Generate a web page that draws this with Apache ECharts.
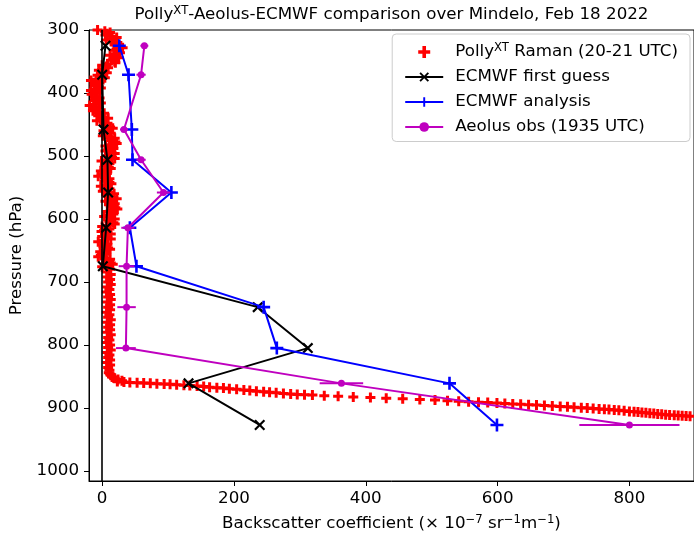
<!DOCTYPE html>
<html><head><meta charset="utf-8">
<script src="https://cdn.jsdelivr.net/npm/echarts@6.0.0/dist/echarts.min.js"></script>
<style>html,body{margin:0;padding:0;background:#fff}#c{width:694px;height:537px}</style>
</head><body><div id="c"></div>
<script>
// ---- data ----
const levels      = [325, 371, 458, 506, 558, 614, 675, 740, 805, 861, 927];
const firstGuessX = [5, 0, 2, 8, 9, 6, 1, 236, 312, 131, 239];
const analysisX   = [26, 40, 45, 46, 105, 42, 52, 245, 265, 527, 599];
const aeolusX     = [64, 59, 33, 59, 93, 39, 37, 37, 36, 363, 800];
const aeolusErr   = [6, 7, 6, 7, 10, 10, 12, 14, 15, 33, 76];

// Polly profile (pressure hPa, backscatter)
const pollyP = [300,304,308,312,316,320,324,328,332,336,340,344,348,352,356,360,364,368,372,376,
  380,384,388,392,396,400,404,408,412,416,420,424,428,432,436,440,444,448,452,456,
  460,464,468,472,476,480,484,488,492,496,500,504,508,512,516,520,524,528,532,536,
  540,544,548,552,556,560,564,568,572,576,580,584,588,592,596,600,604,608,612,616,
  620,624,628,632,636,640,644,648,652,656,660,664,668,672,676,680,684,688,692,696,
  700,704,708,712,716,720,724,728,732,736,740,744,748,752,756,760,764,768,772,776,
  780,784,788,792,796,800,804,808,812,816,820,824,828,832,836,840,844,
  846,848,851,853,855,857,
  858,859,859.5,860,860.5,861,861.5,862,862.5,863,864,864.5,865,866,867,868,868.5,869.5,870.5,871.5,872.5,873.5,874.5,875,876,877,
  878,878.5,879,879.5,880.5,881.5,882.5,883.5,884.5,885.5,886.5,887.5,888.5,889.5,890,890.8,891.5,892.2,893,893.6,894.2,894.8,895.4,896,896.8,897.6,898.3,899,899.7,900.3,900.8,901.5,902,902.6,903.2,903.8,904.5,905.5,906,906.6,907.2,907.8,908.4,909,909.6,910.2,910.8,911.3,911.8,912.2,912.6,913,913.4,
  302,306,310,314,318,322,326,330,334,338,342,346,350,354,358,362,366,370,374,378,
  382,386,390,394,398,402,406,410,414,418,422,426,430,434,438,442,446,450,454,458,
  462,466,470,474,478,482,486,490,494,498,502,506,510,514,518,522,526,530,534,538,
  542,546,550,554,558,562,566,570,574,578,582,586,590,594,598,602,606,610,614,618,
  622,626,630,634,638,642,646,650,654,658,662,666,670,674,678];
const pollyX = [-7,12,5,22,6,23,19,31,18,27,12,25,14,20,0,9,-5,7,-7,4,
  -17,-4,-11,-2,-17,-8,-21,-4,-11,-2,-19,-5,-14,3,-6,9,-8,8,4,16,
  2,13,1,19,13,22,5,17,5,19,7,19,-1,11,4,13,-2,7,-6,11,
  4,14,-2,11,1,18,8,22,5,19,13,23,8,17,3,19,11,19,0,11,
  -1,13,0,13,-6,8,2,12,-3,6,-6,12,6,16,0,12,7,13,8,12,
  9,13,8,11,7,12,9,13,8,12,9,12,7,11,9,13,8,12,9,12,
  8,13,9,11,8,12,9,13,8,11,9,12,8,12,9,11,10,
  12,13,15,19,24,30,
  23,33,42,53,63,73,83,94,103,113,124,133,144,154,163,174,184,193,204,215,224,234,245,254,264,275,
  286,296,307,319,337,358,381,407,431,456,482,505,524,541,556,571,585,599,611,623,635,647,659,671,683,695,706,716,727,736,745,754,762,769,777,784,792,800,807,813,819,825,831,837,843,849,855,861,868,874,880,886,892,
  4,7,15,12,16,19,27,22,24,18,20,17,19,8,6,0,3,-2,0,-9,
  -9,-10,-5,-12,-11,-16,-11,-10,-5,-13,-10,-12,-4,-4,3,-2,2,4,12,7,
  10,5,12,14,20,11,13,9,14,11,15,7,7,6,10,4,5,-1,5,6,
  11,4,7,4,12,11,17,12,14,14,20,13,15,8,13,13,17,8,7,3,
  8,5,8,2,3,3,9,3,4,-2,5,7,13,6,8];

const xTicks = [0, 200, 400, 600, 800];
const yTicks = [300, 400, 500, 600, 700, 800, 900, 1000];

// ---- styling ----
const FF = 'DejaVu Sans';
const FS = 16.7;
const PLUS = 'path://M4,0H6V4H10V6H6V10H4V6H0V4H4Z';
const PLUS_B = 'path://M3.5,0H6.5V3.5H10V6.5H6.5V10H3.5V6.5H0V3.5H3.5Z';
const CROSS = 'path://M1.4,0L5,3.6L8.6,0L10,1.4L6.4,5L10,8.6L8.6,10L5,6.4L1.4,10L0,8.6L3.6,5L0,1.4Z';
const MAG = '#bf00bf';
const rich = {
  n: {fontFamily: FF, fontSize: FS, lineHeight: 20, color: '#000'},
  s: {fontFamily: FF, fontSize: 11.7, lineHeight: 11, verticalAlign: 'top', color: '#000'},
  g: {fontFamily: FF, fontSize: FS, width: 7, lineHeight: 20}
};
const legendLabels = {
  polly: '{g| }{n|Polly}{s|XT}{n| Raman (20-21 UTC)}',
  fg: '{g| }{n|ECMWF first guess}',
  an: '{g| }{n|ECMWF analysis}',
  ae: '{g| }{n|Aeolus obs (1935 UTC)}'
};

const chart = echarts.init(document.getElementById('c'), null, {renderer: 'canvas'});
chart.setOption({
  animation: false,
  backgroundColor: '#fff',
  textStyle: {fontFamily: FF},
  grid: {left: 89, right: 0, top: 30, bottom: 56, show: true, borderColor: '#000', borderWidth: 1,
    backgroundColor: 'transparent', containLabel: false, outerBoundsMode: 'none'},
  graphic: [{
    type: 'text', x: 391.5, y: 15, z: 100,
    style: {text: '{n|Polly}{s|XT}{n|-Aeolus-ECMWF comparison over Mindelo, Feb 18 2022}', rich: rich,
      align: 'center', verticalAlign: 'middle', textAlign: 'center', textVerticalAlign: 'middle'}
  }],
  xAxis: {
    type: 'value', min: -20, max: 898,
    axisLine: {show: true, onZero: false, lineStyle: {color: '#000', width: 1}},
    axisTick: {show: true, length: 5, customValues: xTicks, lineStyle: {color: '#000', width: 1}},
    axisLabel: {customValues: xTicks, margin: 9, fontSize: FS, fontFamily: FF, color: '#000', formatter: v => String(v)},
    splitLine: {show: false},
    name: '{n|Backscatter coefficient (× 10}{s|−7}{n| sr}{s|−1}{n|m}{s|−1}{n|)}',
    nameLocation: 'middle', nameGap: 33,
    nameTextStyle: {rich: rich}
  },
  yAxis: {
    type: 'value', inverse: true, min: 300, max: 1016,
    axisLine: {show: true, onZero: false, lineStyle: {color: '#000', width: 1}},
    axisTick: {show: true, length: 5, customValues: yTicks, lineStyle: {color: '#000', width: 1}},
    axisLabel: {customValues: yTicks, margin: 10, fontSize: FS, fontFamily: FF, color: '#000', formatter: v => String(v)},
    splitLine: {show: false},
    name: 'Pressure (hPa)', nameLocation: 'middle', nameGap: 52,
    nameTextStyle: {fontSize: FS, fontFamily: FF, color: '#000'}
  },
  legend: {
    orient: 'vertical', right: 4, top: 34,
    data: ['polly', 'fg', 'an', 'ae'],
    formatter: n => legendLabels[n],
    itemWidth: 38, itemHeight: 12, itemGap: 8,
    padding: [8, 12, 6, 12],
    backgroundColor: 'rgba(255,255,255,0.8)', borderColor: '#cccccc', borderWidth: 1, borderRadius: 4,
    textStyle: {fontSize: FS, fontFamily: FF, color: '#000', rich: rich},
    z: 50
  },
  series: [
    {
      name: 'polly', type: 'scatter', symbol: PLUS_B, symbolSize: 10,
      itemStyle: {color: '#ff0000', opacity: 1},
      data: pollyP.map((p, i) => [pollyX[i], p]), z: 2, clip: true
    },
    {
      name: 'fg', type: 'line', symbol: CROSS, symbolSize: 11, showAllSymbol: true,
      lineStyle: {color: '#000', width: 2}, itemStyle: {color: '#000', borderWidth: 0},
      data: levels.map((p, i) => [firstGuessX[i], p]), z: 4,
      markLine: {silent: true, symbol: 'none', label: {show: false},
        lineStyle: {color: '#000', width: 1.6, type: 'solid'},
        data: [{xAxis: 0}]}
    },
    {
      name: 'an', type: 'line', symbol: PLUS, symbolSize: 13, showAllSymbol: true,
      lineStyle: {color: '#0000ff', width: 2}, itemStyle: {color: '#0000ff', borderWidth: 0},
      data: levels.map((p, i) => [analysisX[i], p]), z: 5
    },
    {
      name: 'aeErr', type: 'custom', clip: true, z: 6,
      renderItem: (params, api) => {
        const x = api.value(0), p = api.value(1), e = api.value(2);
        const a = api.coord([x - e, p]), b = api.coord([x + e, p]);
        return {type: 'line', shape: {x1: a[0], y1: a[1], x2: b[0], y2: b[1]},
          style: {stroke: MAG, lineWidth: 2}};
      },
      encode: {x: 0, y: 1},
      data: levels.map((p, i) => [aeolusX[i], p, aeolusErr[i]])
    },
    {
      name: 'ae', type: 'line', symbol: 'circle', symbolSize: 7, showAllSymbol: true,
      lineStyle: {color: MAG, width: 2}, itemStyle: {color: MAG, borderWidth: 0},
      data: levels.map((p, i) => [aeolusX[i], p]), z: 7
    }
  ]
});
</script>
</body></html>
